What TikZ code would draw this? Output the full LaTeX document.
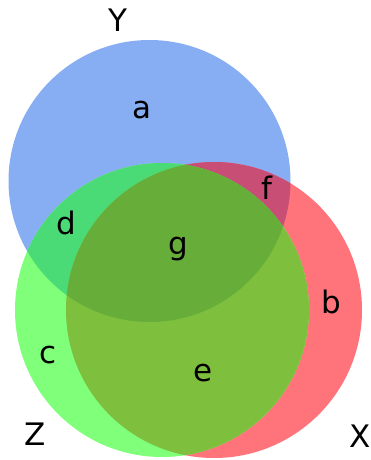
\documentclass[tikz,border=0pt]{standalone}
\usepackage{fontspec}
\setmainfont{DejaVu Sans}
\definecolor{cY}{HTML}{87AEF3}
\definecolor{cX}{HTML}{FF737B}
\definecolor{cZ}{HTML}{7FFF7A}
\definecolor{cYZ}{HTML}{4BDB76}
\definecolor{cXZ}{HTML}{7FBF3E}
\definecolor{cXY}{HTML}{C84E76}
\definecolor{cXYZ}{HTML}{66AD3A}
\tikzset{lbl/.style={anchor=base,inner sep=0pt,font=\fontsize{31}{36}\selectfont}}
\begin{document}
\begin{tikzpicture}[x=1pt,y=-1pt]
\useasboundingbox (0,0) rectangle (371,460);
\def\cY{(149.5,181) circle[radius=141]}
\def\cZ{(162,310) circle[radius=147]}
\def\cX{(214,310) circle[radius=148]}
\fill[cY] \cY;
\fill[cX] \cX;
\fill[cZ] \cZ;
\begin{scope}\clip \cY; \fill[cXY] \cX; \end{scope}
\begin{scope}\clip \cY; \fill[cYZ] \cZ; \end{scope}
\begin{scope}\clip \cX; \fill[cXZ] \cZ; \end{scope}
\begin{scope}\clip \cX; \clip \cY; \fill[cXYZ] \cZ; \end{scope}
\node[lbl] (Y) at (118,32) {Y};
\node[lbl] (a) at (142,118) {a};
\node[lbl] (f) at (267,199) {f};
\node[lbl] (d) at (66,234) {d};
\node[lbl] (g) at (178,254) {g};
\node[lbl] (b) at (331,313) {b};
\node[lbl] (c) at (48,363) {c};
\node[lbl] (e) at (203,381) {e};
\node[lbl] (Z) at (35,445) {Z};
\node[lbl] (X) at (360,447) {X};
\end{tikzpicture}
\end{document}
